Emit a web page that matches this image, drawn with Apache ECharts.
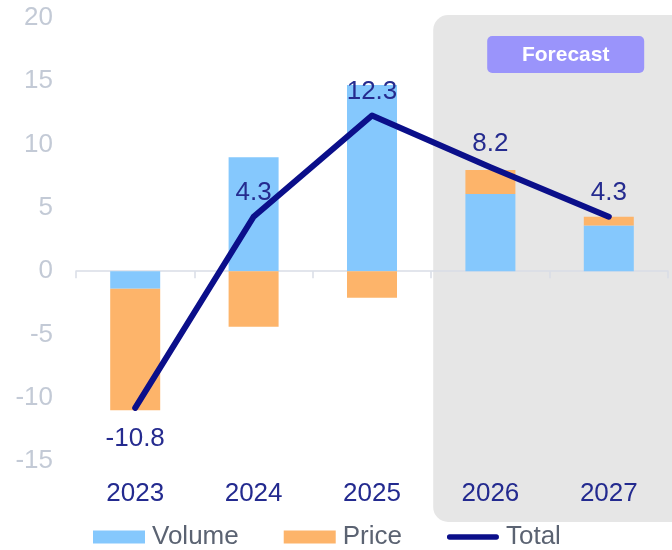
<!DOCTYPE html>
<html><head><meta charset="utf-8">
<script src="https://cdn.jsdelivr.net/npm/echarts@6/dist/echarts.min.js"></script>
<style>html,body{margin:0;padding:0;background:#fff}#c{width:672px;height:550px}</style>
</head><body><div id="c"></div>
<script>
const categories = ['2023', '2024', '2025', '2026', '2027'];
const volume = [-1.4, 9.0, 14.7, 6.1, 3.6];
const price = [-9.6, -4.4, -2.1, 1.9, 0.7];
const total = [-10.8, 4.3, 12.3, 8.2, 4.3];
const forecastStart = 3;
const forecastText = 'Forecast';

const FONT = '"Liberation Sans", Arial, sans-serif';
const chart = echarts.init(document.getElementById('c'), null, {renderer: 'canvas'});

const LINE_ICON = 'path://M3,0 L55,0 A3,3 0 0 1 55,6 L3,6 A3,3 0 0 1 3,0 Z';

const option = {
  animation: false,
  backgroundColor: '#ffffff',
  textStyle: {fontFamily: FONT},
  grid: {left: 76, right: 4, top: 18, bottom: 89, outerBoundsMode: 'none'},
  legend: {
    left: 93, top: 524, padding: 0, itemWidth: 52, itemHeight: 13, itemGap: 45,
    textStyle: {fontSize: 26, color: '#5b6372', fontFamily: FONT, padding: [0, 0, 0, 2]},
    data: [
      {name: 'Volume', icon: 'rect'},
      {name: 'Price', icon: 'rect'},
      {name: 'Total', icon: LINE_ICON, itemStyle: {color: '#0b0f8a'}}
    ]
  },
  xAxis: [
    {
      type: 'category', data: categories, position: 'bottom',
      axisLine: {show: false, onZero: false}, axisTick: {show: false},
      axisLabel: {fontSize: 26, color: '#232a8f', margin: 20, fontFamily: FONT}
    },
    {
      type: 'category', data: categories, position: 'bottom',
      axisLine: {show: true, onZero: true, lineStyle: {color: '#d9dde6', width: 1.5}},
      axisTick: {show: true, length: 7, lineStyle: {color: '#d9dde6', width: 1.5}},
      axisLabel: {show: false}
    }
  ],
  yAxis: {
    type: 'value', min: -15, max: 20, interval: 5,
    splitLine: {show: false}, axisLine: {show: false}, axisTick: {show: false},
    axisLabel: {fontSize: 26, color: '#c3cad6', margin: 23, fontFamily: FONT}
  },
  series: [
    {
      name: 'Volume', type: 'bar', stack: 'a', data: volume, barWidth: 50,
      itemStyle: {color: '#85c8fd'}, z: 2
    },
    {
      name: 'Price', type: 'bar', stack: 'a', data: price, barWidth: 50,
      itemStyle: {color: '#fdb46a'}, z: 2
    },
    {
      name: 'Total', type: 'line', data: total.map((v) => ({
        value: v,
        label: v < 0 ? {position: 'bottom', distance: 17} : {position: 'top', distance: 10}
      })),
      symbol: 'circle', symbolSize: 1, showSymbol: true, z: 5,
      lineStyle: {color: '#0b0f8a', width: 6, cap: 'round', join: 'round'},
      itemStyle: {color: '#0b0f8a'},
      label: {
        show: true, fontSize: 26, color: '#252b8f', fontFamily: FONT, offset: [-4, 0],
        formatter: (p) => p.value.toFixed(1)
      },
      labelLayout: {hideOverlap: false}
    }
  ]
};
chart.setOption(option);

const c0 = chart.convertToPixel({xAxisIndex: 0}, categories[0]);
const c1 = chart.convertToPixel({xAxisIndex: 0}, categories[1]);
const band = c1 - c0;
const fx = chart.convertToPixel({xAxisIndex: 0}, categories[forecastStart]) - band / 2 + 2;
chart.setOption({
  graphic: [
    {
      type: 'rect', z: -10, silent: true,
      shape: {x: fx, y: 15, width: 672 - fx + 20, height: 507, r: 15},
      style: {fill: '#e6e6e6'}
    },
    {
      type: 'rect', z: 10, silent: true,
      shape: {x: fx + 54, y: 36, width: 157, height: 37, r: 5},
      style: {fill: '#9a94fb'}
    },
    {
      type: 'text', z: 11, silent: true,
      x: fx + 54 + 78.5, y: 55,
      style: {text: forecastText, fill: '#ffffff', font: 'bold 21px ' + FONT, align: 'center', verticalAlign: 'middle'}
    }
  ]
});
</script>
</body></html>
